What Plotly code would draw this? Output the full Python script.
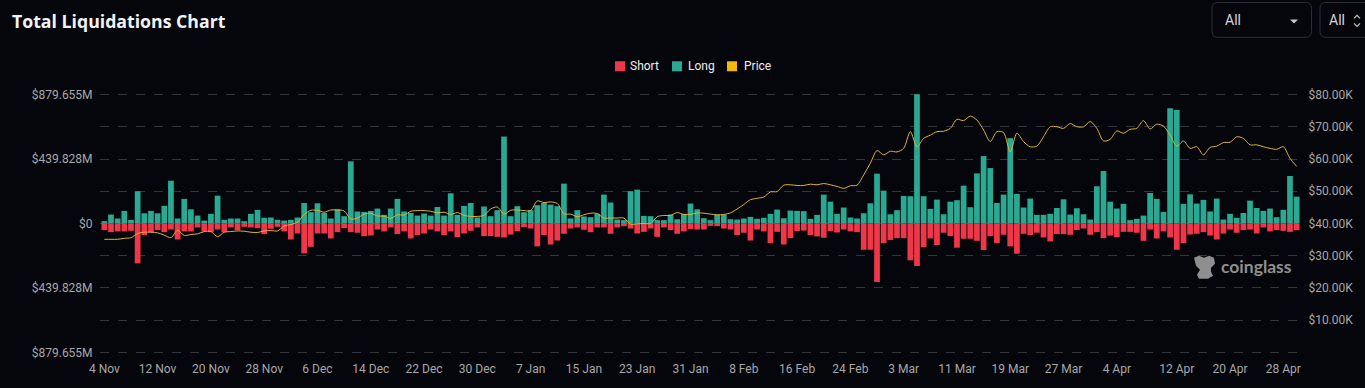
import plotly.graph_objects as go

W, H = 1365, 388
BG = "#05060b"
FONT = "Roboto, Arial, sans-serif"
PL, PR, PT, PB = 100, 1300, 92.8, 354.5

long_m = [16,61,34,86,25,220,70,86,70,120,292,34,168,97,54,20,66,190,25,34,
34,16,66,93,39,41,25,20,25,41,140,77,138,72,34,97,50,424,82,79,
86,102,59,102,168,82,72,54,68,54,113,54,206,59,120,140,41,116,50,91,
593,50,118,77,91,125,140,129,118,272,34,91,48,43,66,197,143,27,23,220,
231,52,50,23,23,61,29,66,136,97,36,23,59,59,29,27,34,45,32,39,
66,95,36,88,86,84,32,59,197,149,66,109,41,34,70,138,340,224,63,91,
188,186,882,186,100,163,63,149,159,258,111,342,460,378,140,197,582,202,109,170,
59,59,66,106,165,61,104,63,27,254,358,149,102,134,23,32,54,208,168,79,
786,775,134,199,136,161,82,170,27,66,39,72,156,106,86,102,43,93,324,183]

short_m = [45,59,54,54,50,272,79,59,45,59,41,109,54,54,27,54,59,41,59,27,
45,23,27,32,72,36,23,54,109,68,204,159,68,68,102,59,32,59,63,86,
82,41,54,27,72,54,102,79,68,41,54,79,54,93,68,50,27,86,86,91,
95,75,52,25,34,156,79,143,116,70,34,27,43,59,27,27,70,27,18,34,
68,57,34,91,27,45,70,54,39,41,41,16,18,34,41,79,63,116,41,54,
134,57,143,100,52,48,79,88,97,52,61,41,54,59,179,179,399,134,113,100,
100,251,290,161,102,147,63,86,165,104,104,118,181,86,134,77,156,206,70,79,
63,95,122,72,72,77,45,34,77,59,100,82,93,57,57,63,118,41,102,54,
95,179,134,75,70,59,82,109,68,41,63,45,41,68,27,54,45,50,57,45]

price_k = [35.1,35.1,35.1,35.4,35.6,36.9,37.3,37.3,37.1,36.4,35.6,37.9,36.3,36.6,36.8,37.5,37.5,35.9,37.3,37.5,
37.7,37.6,37.3,37.2,37.7,37.8,37.7,39.2,39.7,40.4,42.8,44.1,44.1,43.5,44.2,44.2,43.9,41.4,41.7,42.9,
43.2,42.3,42.3,41.6,42.7,42.6,43.8,44.0,44.0,43.8,43.3,43.5,42.8,43.4,42.5,42.2,42.2,42.5,44.5,45.1,
42.9,44.1,44.2,44.0,44.0,47.0,46.5,46.7,46.2,43.0,42.9,42.1,42.7,43.2,43.1,41.7,41.7,41.7,41.7,39.8,
39.9,40.0,40.0,42.1,42.5,42.5,43.4,42.8,42.8,43.3,43.2,42.9,42.7,42.8,43.3,44.5,45.9,47.4,47.8,48.2,
49.8,49.9,51.9,52.0,51.8,51.8,52.2,52.0,52.4,52.0,51.5,50.9,51.7,51.9,55.1,58.7,62.6,61.3,62.4,62.2,
63.3,68.5,63.8,66.4,67.4,68.5,68.6,69.5,72.3,71.9,73.3,72.1,69.0,65.4,68.5,68.2,62.2,68.0,65.4,63.8,
64.0,66.9,70.0,70.0,69.5,71.0,70.0,70.0,71.6,69.5,65.6,66.1,68.7,68.0,69.2,69.5,71.9,69.3,70.8,70.2,
67.4,64.0,65.6,63.3,63.8,61.3,63.6,64.0,65.1,65.2,66.9,66.4,64.4,64.4,63.8,63.3,63.0,63.8,60.2,57.7]

tick_labels = ["4 Nov","12 Nov","20 Nov","28 Nov","6 Dec","14 Dec","22 Dec","30 Dec","7 Jan","15 Jan","23 Jan",
"31 Jan","8 Feb","16 Feb","24 Feb","3 Mar","11 Mar","19 Mar","27 Mar","4 Apr","12 Apr","20 Apr","28 Apr"]
tick_bars = [0,8,16,24,32,40,48,56,64,72,80,88,96,104,112,120,128,136,144,152,161,169,177]

left_ticks = [879.655,659.741,439.828,219.914,0,-219.914,-439.828,-659.741,-879.655]
left_labels = ["$879.655M","","$439.828M","","$0","","$439.828M","","$879.655M"]
right_ticks = [0,10,20,30,40,50,60,70,80]
right_labels = ["","$10.00K","$20.00K","$30.00K","$40.00K","$50.00K","$60.00K","$70.00K","$80.00K"]

RED, TEAL, GOLD = "#f0374a", "#2aa891", "#f0b90b"
bars = list(range(len(long_m)))

def px(x): return (x - PL) / (PR - PL)
def py(y): return (PB - y) / (PB - PT)

def rrect(x0, y0, x1, y1, r=6):
    return (f"M{px(x0+r)},{py(y0)} L{px(x1-r)},{py(y0)} Q{px(x1)},{py(y0)} {px(x1)},{py(y0+r)} "
            f"L{px(x1)},{py(y1-r)} Q{px(x1)},{py(y1)} {px(x1-r)},{py(y1)} L{px(x0+r)},{py(y1)} "
            f"Q{px(x0)},{py(y1)} {px(x0)},{py(y1-r)} L{px(x0)},{py(y0+r)} Q{px(x0)},{py(y0)} {px(x0+r)},{py(y0)} Z")

def poly(pts, close=True):
    s = "M" + " L".join(f"{px(a)},{py(b)}" for a, b in pts)
    return s + (" Z" if close else "")

fig = go.Figure()
fig.add_bar(x=bars, y=[-v for v in short_m], name="Short", marker=dict(color=RED, line_width=0), yaxis="y")
fig.add_bar(x=bars, y=long_m, name="Long", marker=dict(color=TEAL, line_width=0), yaxis="y")
fig.add_scatter(x=bars, y=price_k, name="Price", mode="lines", yaxis="y2",
                line=dict(color="#e2b33a", width=1, shape="spline", smoothing=0.8))

shapes, ann = [], []
def text(x, y, s, size=12, color="#d8d8d8", anchor="left", family=FONT, bold=False):
    ann.append(dict(xref="paper", yref="paper", x=px(x), y=py(y), text=f"<b>{s}</b>" if bold else s,
                    showarrow=False, xanchor=anchor, yanchor="middle", borderpad=0, borderwidth=0,
                    font=dict(size=size, color=color, family=family)))

# title and selectors
text(12, 21, "Total Liquidations Chart", size=17.7, color="#f2f3f5", family="'Open Sans', sans-serif", bold=True)
border = "#2c2f35"
shapes.append(dict(type="path", xref="paper", yref="paper", path=rrect(1212, 2, 1311.5, 37), line=dict(color=border, width=1)))
shapes.append(dict(type="path", xref="paper", yref="paper", path=rrect(1320, 2, 1372, 37), line=dict(color=border, width=1)))
text(1225, 20, "All", size=14, color="#d5d7da")
text(1329, 20, "All", size=14, color="#d5d7da")
shapes.append(dict(type="path", xref="paper", yref="paper", path=poly([(1290, 19), (1298, 19), (1294, 23)]),
                   fillcolor="#c8c8c8", line_width=0))
shapes.append(dict(type="path", xref="paper", yref="paper", path=poly([(1354, 18), (1357, 15), (1360, 18)], False),
                   line=dict(color="#c8c8c8", width=1.2)))
shapes.append(dict(type="path", xref="paper", yref="paper", path=poly([(1354, 23), (1357, 26), (1360, 23)], False),
                   line=dict(color="#c8c8c8", width=1.2)))

# legend row
for x0, col, name, tx in [(615, RED, "Short", 630), (672, TEAL, "Long", 688), (727, GOLD, "Price", 744)]:
    shapes.append(dict(type="rect", xref="paper", yref="paper", x0=px(x0), x1=px(x0 + 10), y0=py(71), y1=py(61),
                       fillcolor=col, line_width=0))
    text(tx, 66, name, size=12, color="#eeeeee")

# watermark
logo = [(1194,258),(1199,256),(1204,258),(1209,256),(1214,258),(1215,264),(1211,268),(1211,272),(1213,276),
        (1208,279),(1199,279),(1197,275),(1200,270),(1196,266)]
shapes.append(dict(type="path", xref="paper", yref="paper", path=poly(logo), fillcolor="#8f8f8f", line_width=0))
text(1221, 267, "coinglass", size=17.5, color="#8f8f8f", family="Lato, sans-serif", bold=True)

fig.update_layout(
    width=W, height=H, autosize=False,
    paper_bgcolor=BG, plot_bgcolor=BG,
    margin=dict(l=PL, r=W-PR, t=PT, b=H-PB, pad=0, autoexpand=False),
    barmode="relative", bargap=0.14, showlegend=False,
    font=dict(family=FONT, size=12, color="#a8a8a8"),
    shapes=shapes, annotations=ann,
    xaxis=dict(range=[-0.65, 179.5], tickmode="array", tickvals=tick_bars, ticktext=tick_labels,
               showgrid=False, zeroline=False, showline=False, ticks="outside", ticklen=4, tickcolor=BG,
               tickfont=dict(size=12, color="#a8a8a8"), tickangle=0),
    yaxis=dict(range=[-890, 890], tickmode="array", tickvals=left_ticks, ticktext=left_labels,
               showgrid=True, gridcolor="#34363b", griddash="dash", gridwidth=1, zeroline=False, showline=False,
               ticks="outside", ticklen=4, tickcolor=BG, tickfont=dict(size=12, color="#a8a8a8")),
    yaxis2=dict(range=[-0.47, 80.47], overlaying="y", side="right", tickmode="array", tickvals=right_ticks,
                ticktext=right_labels, showgrid=False, zeroline=False, showline=False,
                ticks="outside", ticklen=5, tickcolor=BG, tickfont=dict(size=12, color="#a8a8a8")),
)

fig.write_html("out.html", config=dict(displayModeBar=False),
               post_script="document.body.style.margin='0';document.body.style.overflow='hidden';document.body.style.background='#05060b';")
